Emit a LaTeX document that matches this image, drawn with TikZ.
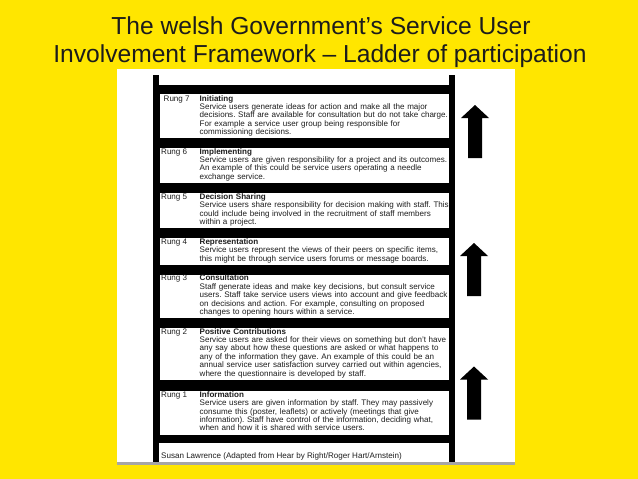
\documentclass[tikz,border=0pt]{standalone}
\usepackage{fontspec}
\setmainfont{Liberation Sans}
\frenchspacing
\hyphenpenalty=10000
\definecolor{slidebg}{RGB}{255,230,0}
\definecolor{titleink}{RGB}{28,28,28}
\definecolor{bodyink}{RGB}{30,30,30}
\tikzset{
  rungbox/.style={draw=black, line width=0.4pt, fill=white, anchor=north west,
    minimum width=290pt, inner sep=0pt, outer sep=0pt},
  rungtext/.style={anchor=base west, inner sep=0pt, align=left, text width=320pt,
    font=\fontsize{8.05}{8.4}\selectfont, text=bodyink},
  runglabel/.style={anchor=base west, inner sep=0pt,
    font=\fontsize{8.05}{8.4}\selectfont, text=bodyink},
  titleline/.style={anchor=base, inner sep=0pt, font=\fontsize{24.6}{27}\selectfont, text=titleink},
  uparrow/.pic={\fill[black] (-7,0) -- (-7,-40) -- (-14,-40) -- (0,-53) -- (14,-40) -- (7,-40) -- (7,0) -- cycle;}
}
\begin{document}
\begin{tikzpicture}[x=1pt,y=-1pt]
\useasboundingbox (0,0) rectangle (638,479);
\fill[slidebg] (0,0) rectangle (638,479);
% title
\node[titleline] (t1) at (321,34.5) {The welsh Government’s Service User};
\node[titleline] (t2) at (320,62) {Involvement Framework – Ladder of participation};
% white panel
\fill[black!35] (117,462) rectangle (515,464.5);
\fill[white] (117,69) rectangle (515,462);
% ladder rails and rung bands
\fill[black] (153,75) rectangle (159,462);
\fill[black] (449,75) rectangle (455,462);
\fill[black] (159,85) rectangle (449,443);
% boxes
\node[rungbox, minimum height=45pt] (b7) at (159,93) {};
\node[rungbox, minimum height=36pt] (b6) at (159,147) {};
\node[rungbox, minimum height=36pt] (b5) at (159,192) {};
\node[rungbox, minimum height=28pt] (b4) at (159,237) {};
\node[rungbox, minimum height=44pt] (b3) at (159,274) {};
\node[rungbox, minimum height=53pt] (b2) at (159,327) {};
\node[rungbox, minimum height=45pt] (b1) at (159,390) {};
% rung 7
\node[runglabel] (l7) at (163.5,101) {Rung 7};
\node[rungtext] (x7) at (199.5,101) {\textbf{Initiating}\\
Service users generate ideas for action and make all the major\\
decisions. Staff are available for consultation but do not take charge.\\
For example a service user group being responsible for\\
commissioning decisions.};
% rung 6
\node[runglabel] (l6) at (161,154) {Rung 6};
\node[rungtext] (x6) at (199.5,154) {\textbf{Implementing}\\
Service users are given responsibility for a project and its outcomes.\\
An example of this could be service users operating a needle\\
exchange service.};
% rung 5
\node[runglabel] (l5) at (161,199.3) {Rung 5};
\node[rungtext] (x5) at (199.5,199.3) {\textbf{Decision Sharing}\\
Service users share responsibility for decision making with staff. This\\
could include being involved in the recruitment of staff members\\
within a project.};
% rung 4
\node[runglabel] (l4) at (161,244.3) {Rung 4};
\node[rungtext] (x4) at (199.5,244.3) {\textbf{Representation}\\
Service users represent the views of their peers on specific items,\\
this might be through service users forums or message boards.};
% rung 3
\node[runglabel] (l3) at (161,280.8) {Rung 3};
\node[rungtext] (x3) at (199.5,280.8) {\textbf{Consultation}\\
Staff generate ideas and make key decisions, but consult service\\
users. Staff take service users views into account and give feedback\\
on decisions and action. For example, consulting on proposed\\
changes to opening hours within a service.};
% rung 2
\node[runglabel] (l2) at (161,334) {Rung 2};
\node[rungtext] (x2) at (199.5,334) {\textbf{Positive Contributions}\\
Service users are asked for their views on something but don’t have\\
any say about how these questions are asked or what happens to\\
any of the information they gave. An example of this could be an\\
annual service user satisfaction survey carried out within agencies,\\
where the questionnaire is developed by staff.};
% rung 1
\node[runglabel] (l1) at (161,397.3) {Rung 1};
\node[rungtext] (x1) at (199.5,397.3) {\textbf{Information}\\
Service users are given information by staff. They may passively\\
consume this (poster, leaflets) or actively (meetings that give\\
information). Staff have control of the information, deciding what,\\
when and how it is shared with service users.};
% footer
\node[runglabel] (foot) at (161,458.5) {Susan Lawrence (Adapted from Hear by Right/Roger Hart/Arnstein)};
% arrows
\pic at (475,158) {uparrow};
\pic at (474,296) {uparrow};
\pic at (474,419.5) {uparrow};
\end{tikzpicture}
\end{document}
